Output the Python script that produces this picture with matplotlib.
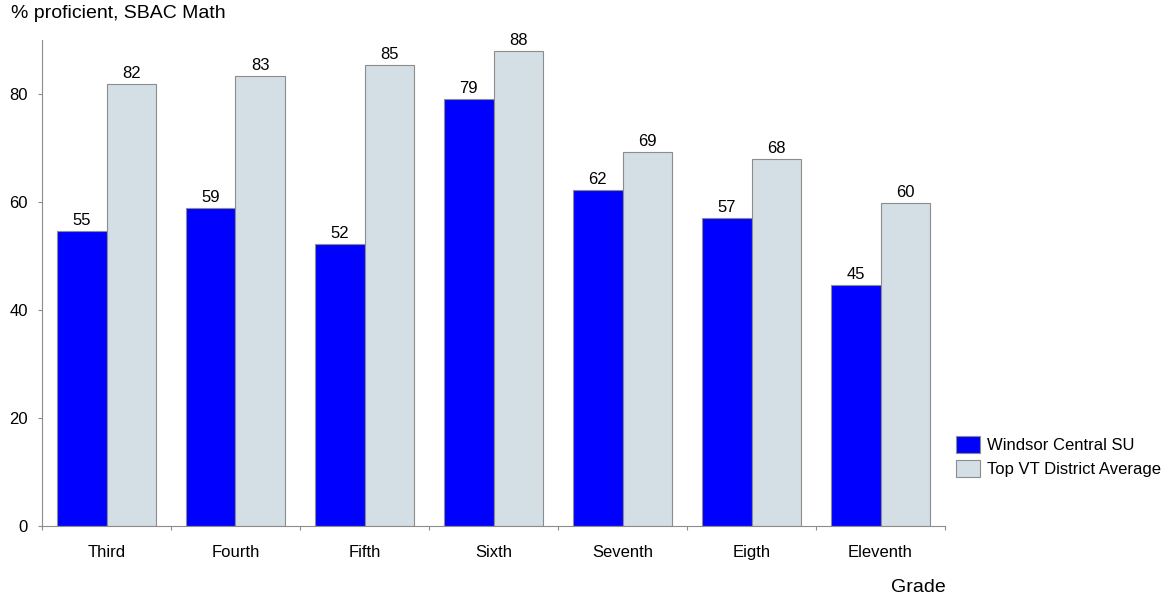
import matplotlib
matplotlib.use("Agg")
import matplotlib.pyplot as plt
import numpy as np

plt.rcParams['font.family'] = ['Liberation Sans', 'DejaVu Sans']

grades = ['Third', 'Fourth', 'Fifth', 'Sixth', 'Seventh', 'Eigth', 'Eleventh']
windsor = [54.6, 58.9, 52.2, 79.1, 62.2, 57.0, 44.6]
top_vt = [81.9, 83.3, 85.4, 88.0, 69.3, 68.0, 59.8]
series_names = ['Windsor Central SU', 'Top VT District Average']

fig = plt.figure(figsize=(11.7, 5.96), dpi=100)
ax = fig.add_axes([42 / 1170, 70 / 596, 903 / 1170, 486 / 596])

x = np.arange(len(grades))
w = 0.385
edge = '#8c8c8c'
b1 = ax.bar(x - w / 2, windsor, w, color='#0000ff', edgecolor=edge, linewidth=0.8,
            label=series_names[0])
b2 = ax.bar(x + w / 2, top_vt, w, color='#d3dfe5', edgecolor=edge, linewidth=0.8,
            label=series_names[1])

for bars, vals in ((b1, windsor), (b2, top_vt)):
    for bar, v in zip(bars, vals):
        ax.text(bar.get_x() + bar.get_width() / 2, v + 0.6, '{:.0f}'.format(v),
                ha='center', va='bottom', fontsize=12)

ax.set_xlim(-0.5, len(grades) - 0.5)
ax.set_ylim(0, 90)
ax.set_yticks([0, 20, 40, 60, 80])
ax.set_xticks(np.arange(len(grades) + 1) - 0.5)
ax.set_xticklabels([])
ax.set_xticks(x, minor=True)
ax.set_xticklabels(grades, minor=True, fontsize=12)
ax.tick_params(axis='x', which='minor', length=0, pad=14)
ax.tick_params(axis='x', which='major', length=3, color=edge)
ax.tick_params(axis='y', length=3, color=edge, labelsize=12, pad=7)

for s in ['top', 'right']:
    ax.spines[s].set_visible(False)
for s in ['left', 'bottom']:
    ax.spines[s].set_color(edge)

fig.text(11 / 1170, 1 - 13 / 596, '% proficient, SBAC Math', fontsize=14,
         ha='left', va='center')
fig.text(946 / 1170, 1 - 588 / 596, 'Grade', fontsize=14, ha='right', va='center')

ax.legend(loc='upper left', bbox_to_anchor=(948 / 1170, 1 - 428 / 596),
          bbox_transform=fig.transFigure, frameon=False, borderpad=0,
          fontsize=12, handlelength=1.44, handleheight=1.2, labelspacing=0.4,
          handletextpad=0.42)

fig.savefig('out.png', dpi=100)
